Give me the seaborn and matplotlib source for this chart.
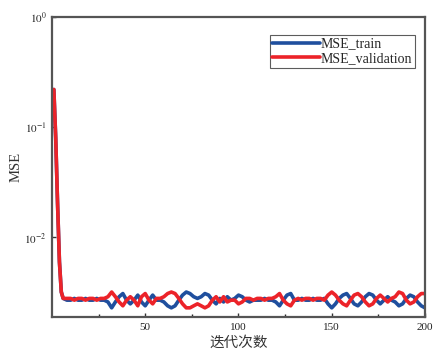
import numpy as np
import pandas as pd
import matplotlib
matplotlib.use("Agg")
import matplotlib.pyplot as plt
import seaborn as sns
from matplotlib.ticker import FixedLocator

epochs = [1, 2, 3, 4, 5, 6] + list(range(8, 201, 2))

mse_train = [0.22, 0.08, 0.02, 0.006, 0.0032, 0.0028,
    0.0027, 0.0027, 0.0028, 0.0027, 0.0027, 0.0028, 0.0027, 0.0027, 0.0028, 0.0027, 0.0027,
    0.0026, 0.0023, 0.0026, 0.0029, 0.0031, 0.0027, 0.0025, 0.0027, 0.0030, 0.0026,
    0.0024, 0.0027, 0.0030, 0.0027, 0.0027, 0.0026, 0.0024, 0.0023, 0.0024, 0.0027,
    0.0030, 0.0032, 0.0031, 0.0029, 0.0028, 0.0029, 0.0031, 0.0030, 0.0027, 0.0025,
    0.0028, 0.0026, 0.0029, 0.0027, 0.0028, 0.0030, 0.0029, 0.0027, 0.0026, 0.0027,
    0.0027, 0.0027, 0.0028, 0.0027, 0.0027, 0.0026, 0.0024, 0.0027, 0.0030, 0.0031,
    0.0027, 0.0027, 0.0028, 0.0027, 0.0027, 0.0028, 0.0027, 0.0027, 0.0028, 0.0025,
    0.0023, 0.0025, 0.0028, 0.0030, 0.0031, 0.0028, 0.0025, 0.0024, 0.0026, 0.0029,
    0.0031, 0.0030, 0.0027, 0.0025, 0.0027, 0.0029, 0.0027, 0.0026, 0.0024, 0.0025,
    0.0028, 0.0030, 0.0029, 0.0026, 0.0024, 0.0023]

mse_validation = [0.22, 0.08, 0.02, 0.006, 0.0032, 0.0028,
    0.0028, 0.0028, 0.0027, 0.0028, 0.0028, 0.0027, 0.0028, 0.0028, 0.0027, 0.0028, 0.0028,
    0.0029, 0.0032, 0.0029, 0.0026, 0.0024, 0.0027, 0.0029, 0.0027, 0.0024, 0.0029,
    0.0031, 0.0027, 0.0025, 0.0028, 0.0028, 0.0029, 0.0031, 0.0032, 0.0031, 0.0028,
    0.0025, 0.0023, 0.0023, 0.0024, 0.0025, 0.0024, 0.0023, 0.0024, 0.0027, 0.0029,
    0.0026, 0.0029, 0.0026, 0.0027, 0.0027, 0.0025, 0.0026, 0.0028, 0.0028, 0.0027,
    0.0028, 0.0028, 0.0027, 0.0028, 0.0028, 0.0029, 0.0031, 0.0027, 0.0025, 0.0024,
    0.0027, 0.0028, 0.0027, 0.0028, 0.0028, 0.0027, 0.0028, 0.0028, 0.0027, 0.0030,
    0.0032, 0.0030, 0.0027, 0.0025, 0.0024, 0.0027, 0.0030, 0.0031, 0.0029, 0.0026,
    0.0024, 0.0025, 0.0028, 0.0030, 0.0028, 0.0026, 0.0028, 0.0029, 0.0032, 0.0031,
    0.0027, 0.0025, 0.0026, 0.0029, 0.0031, 0.0031]

series_names = ["MSE_train", "MSE_validation"]
colors = ["#1f4f9e", "#ec2329"]

df = pd.DataFrame({
    "epoch": epochs * 2,
    "mse": mse_train + mse_validation,
    "series": [series_names[0]] * len(epochs) + [series_names[1]] * len(epochs),
})

sns.set_theme(style="white")
plt.rcParams["font.family"] = ["Liberation Serif", "Noto Sans CJK SC"]
plt.rcParams["mathtext.fontset"] = "stix"

fig = plt.figure(figsize=(4.35, 3.56), dpi=100)
ax = fig.add_axes([0.1195, 0.1096, 0.8575, 0.8426])

sns.lineplot(data=df, x="epoch", y="mse", hue="series", palette=colors,
             linewidth=2.6, ax=ax, legend=True)
for ln in ax.get_lines():
    ln.set_solid_joinstyle("round")
    ln.set_solid_capstyle("round")

ax.set_yscale("log")
ax.set_ylim(0.0019, 1.0)
ax.set_xlim(0, 200)
ax.yaxis.set_major_locator(FixedLocator([1e-2, 1e-1, 1e0]))
ax.yaxis.set_minor_locator(FixedLocator([]))
ax.set_yticklabels([r"$10^{-2}$", r"$10^{-1}$", r"$10^{0}$"])
ax.xaxis.set_major_locator(FixedLocator([50, 100, 150, 200]))
ax.xaxis.set_minor_locator(FixedLocator([25, 75, 125, 175]))
ax.tick_params(axis="both", which="major", direction="in", length=3, width=1,
               labelsize=8, colors="#333333", labelcolor="#222222", pad=4)
ax.tick_params(axis="x", which="minor", direction="in", length=2, width=1, bottom=True)
ax.tick_params(axis="x", which="major", bottom=True)
ax.tick_params(axis="y", which="major", left=True)

for s in ax.spines.values():
    s.set_color("#555555")
    s.set_linewidth(1.6)

ax.set_xlabel("迭代次数", fontsize=10.5, family=["Noto Sans CJK SC"], color="#333333", labelpad=3)
ax.set_ylabel("MSE", fontsize=10.5, color="#333333", labelpad=1)

leg = ax.legend(loc="upper right", bbox_to_anchor=(0.985, 0.955), frameon=True,
                fontsize=10, handlelength=3.4, handletextpad=0.1,
                borderpad=0.2, labelspacing=0.1, fancybox=False, borderaxespad=0.3)
leg.get_frame().set_edgecolor("#333333")
leg.get_frame().set_linewidth(0.8)
for line in leg.get_lines():
    line.set_linewidth(2.6)

fig.savefig("out.png", dpi=100)
